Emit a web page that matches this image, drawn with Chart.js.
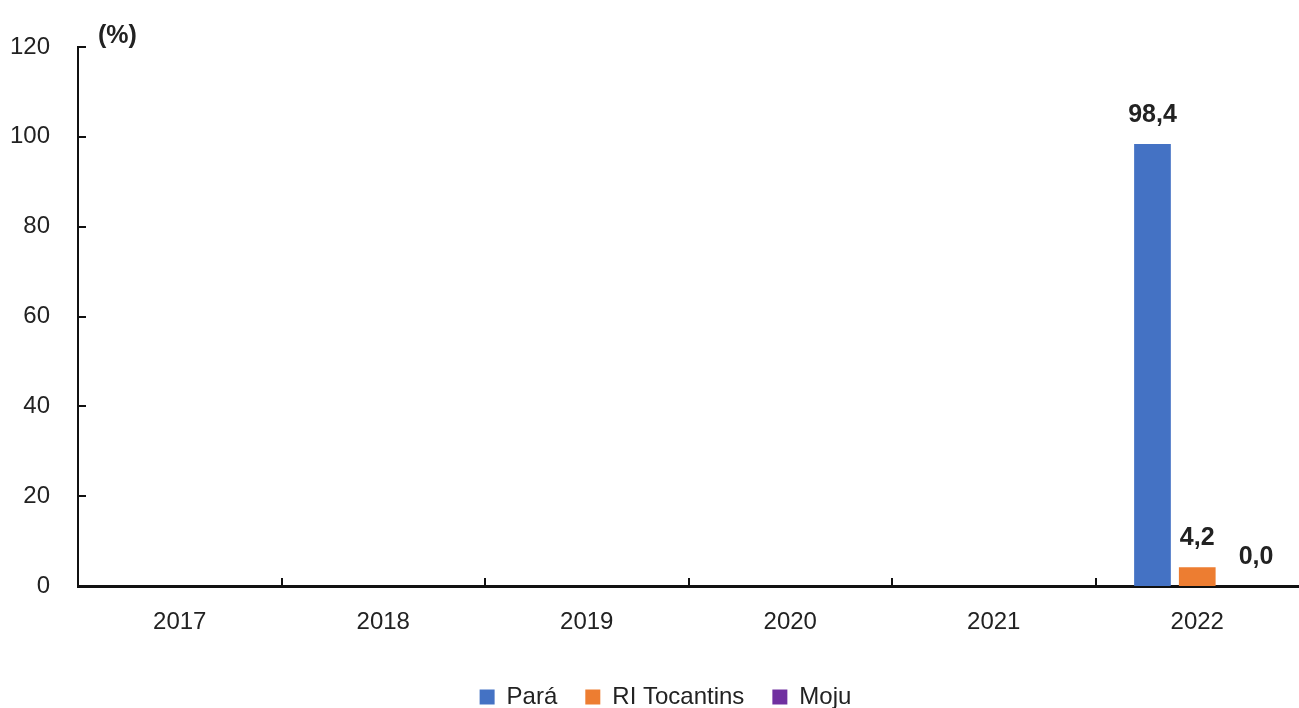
<!DOCTYPE html>
<html>
<head>
<meta charset="utf-8">
<script src="https://cdn.jsdelivr.net/npm/chart.js@4.4.1/dist/chart.umd.min.js"></script>
<style>
  html, body { margin: 0; padding: 0; background: #ffffff; }
  #wrap { width: 1299px; height: 708px; position: relative; }
</style>
</head>
<body>
<div id="wrap"><canvas id="c" width="1299" height="708"></canvas></div>
<script>
const categories = ['2017', '2018', '2019', '2020', '2021', '2022'];
const paraValues = [null, null, null, null, null, 98.4];
const riTocantinsValues = [null, null, null, null, null, 4.2];
const mojuValues = [null, null, null, null, null, 0.0];
const seriesNames = ['Pará', 'RI Tocantins', 'Moju'];
const yTicks = [0, 20, 40, 60, 80, 100, 120];
const yUnitLabel = '(%)';

const FONT = '"Liberation Sans", Arial, sans-serif';
const TEXT = '#222222';

const fmt = v => v.toFixed(1).replace('.', ',');

const inwardTicks = {
  id: 'inwardTicks',
  afterDraw(chart) {
    const ctx = chart.ctx;
    const x = chart.scales.x, y = chart.scales.y;
    ctx.save();
    ctx.strokeStyle = '#111';
    ctx.lineWidth = 2;
    yTicks.forEach(v => {
      const py = Math.round(y.getPixelForValue(v));
      ctx.beginPath();
      ctx.moveTo(x.left, py);
      ctx.lineTo(x.left + 8, py);
      ctx.stroke();
    });
    for (let i = 1; i < categories.length; i++) {
      const px = Math.round(x.getPixelForValue(i - 0.5));
      ctx.beginPath();
      ctx.moveTo(px, y.bottom);
      ctx.lineTo(px, y.bottom - 8);
      ctx.stroke();
    }
    ctx.fillStyle = TEXT;
    ctx.font = 'bold 25px ' + FONT;
    ctx.textAlign = 'left';
    ctx.textBaseline = 'bottom';
    ctx.fillText(yUnitLabel, x.left + 20, y.top + 2);
    ctx.restore();
  }
};

const valueLabels = {
  id: 'valueLabels',
  afterDatasetsDraw(chart) {
    const ctx = chart.ctx;
    ctx.save();
    ctx.fillStyle = TEXT;
    ctx.font = 'bold 25px ' + FONT;
    ctx.textAlign = 'center';
    ctx.textBaseline = 'alphabetic';
    chart.data.datasets.forEach((ds, di) => {
      const meta = chart.getDatasetMeta(di);
      meta.data.forEach((el, i) => {
        const v = ds.data[i];
        if (v === null || v === undefined) return;
        const dx = v === 0 ? 14 : 0;
        ctx.fillText(fmt(v), el.x + dx, el.y - 22);
      });
    });
    ctx.restore();
  }
};

const legendShift = {
  id: 'legendShift',
  afterLayout(chart) {
    if (chart.legend) { chart.legend.left += 16; chart.legend.right += 16; }
  }
};

new Chart(document.getElementById('c'), {
  type: 'bar',
  data: {
    labels: categories,
    datasets: [
      { label: seriesNames[0], data: paraValues, backgroundColor: '#4472C4' },
      { label: seriesNames[1], data: riTocantinsValues, backgroundColor: '#ED7D31' },
      { label: seriesNames[2], data: mojuValues, backgroundColor: '#7030A0' }
    ]
  },
  options: {
    responsive: false,
    animation: false,
    devicePixelRatio: 1,
    layout: { padding: { top: 47, right: 0, left: 0, bottom: -11 } },
    datasets: { bar: { categoryPercentage: 0.66, barPercentage: 0.82 } },
    scales: {
      x: {
        grid: { display: false, drawTicks: false },
        border: { display: true, color: '#111', width: 3 },
        ticks: { color: TEXT, font: { family: FONT, size: 24 }, padding: 22 },
        afterFit(s) { s.height = 71; }
      },
      y: {
        min: 0, max: 120,
        afterBuildTicks(s) { s.ticks = yTicks.map(v => ({ value: v })); },
        grid: { display: false, drawTicks: false },
        border: { display: true, color: '#111', width: 2 },
        ticks: { color: TEXT, font: { family: FONT, size: 24 }, padding: 28 },
        afterFit(s) { s.width = 78; }
      }
    },
    plugins: {
      legend: {
        position: 'bottom',
        labels: {
          color: TEXT,
          font: { family: FONT, size: 24 },
          boxWidth: 15, boxHeight: 15,
          padding: 28
        }
      },
      tooltip: { enabled: false }
    }
  },
  plugins: [inwardTicks, valueLabels, legendShift]
});
</script>
</body>
</html>
